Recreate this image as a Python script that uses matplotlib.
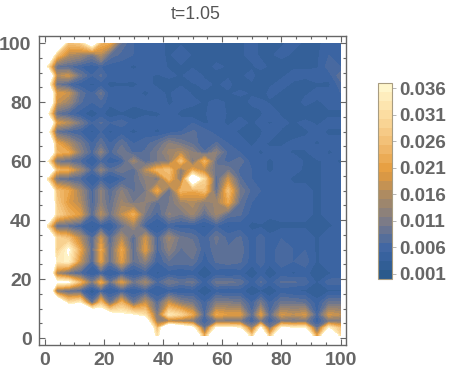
import numpy as np
import matplotlib
matplotlib.use('Agg')
import matplotlib.pyplot as plt
from matplotlib.colors import LinearSegmentedColormap, BoundaryNorm
from matplotlib.cm import ScalarMappable
from matplotlib.ticker import MultipleLocator

plt.rcParams['font.family'] = ['Liberation Sans', 'DejaVu Sans']

# sample positions, picked on the dark lines and in the cells between them
x_pos = [1, 4, 8, 12, 16, 19, 22, 26, 30, 34, 38, 42, 46, 50, 54, 58, 62, 66, 70, 73, 76, 80, 84, 88, 92, 96, 100]
y_pos = [1, 3.5, 5.8, 8, 12, 16, 19, 22, 26, 30, 34, 38, 42, 46, 50, 54, 57, 60, 63, 66, 70, 73, 76, 80, 83, 86, 89, 92, 96, 100]

# values, in thousandths, one row per y_pos
z_rows = [
    [60, 60, 60, 60, 60, 60, 60, 60, 60, 60, 30, 60, 60, 60, 20, 60, 60, 60, 26, 60, 24, 60, 60, 60, 18, 60, 30],
    [60, 60, 60, 60, 60, 60, 60, 60, 60, 60, 24, 60, 50, 40, 8, 38, 38, 36, 12, 38, 10, 38, 36, 36, 8, 36, 26],
    [60, 60, 60, 60, 60, 60, 60, 55, 50, 45, 12, 14, 12, 11, 5, 10, 10, 10, 5, 10, 5, 10, 9, 10, 4, 10, 10],
    [60, 60, 60, 60, 60, 50, 42, 38, 36, 32, 10, 34, 30, 22, 6, 22, 20, 20, 7, 20, 7, 19, 17, 19, 5, 19, 17],
    [60, 60, 32, 36, 8, 26, 9, 24, 9, 18, 7, 18, 12, 10, 5, 11, 11, 10, 5, 10, 5, 9, 9, 8, 4, 9, 9],
    [60, 10, 7, 6, 2, 5, 3, 5, 3, 5, 3, 4, 3, 4, 2, 4, 3, 4, 2, 3, 2, 4, 3, 3, 2, 3, 3],
    [60, 40, 38, 24, 10, 22, 8, 20, 9, 14, 6, 10, 8, 9, 4, 9, 9, 8, 4, 7, 4, 7, 7, 6, 3, 6, 6],
    [60, 14, 8, 6, 3, 5, 3, 5, 3, 5, 3, 4, 3, 4, 2, 4, 3, 4, 2, 4, 2, 4, 3, 4, 2, 3, 4],
    [60, 34, 36, 18, 6, 20, 8, 20, 8, 12, 5, 8, 8, 8, 4, 7, 8, 7, 4, 6, 4, 6, 5, 6, 3, 5, 5],
    [60, 28, 38, 22, 7, 22, 8, 22, 7, 20, 6, 12, 8, 10, 5, 8, 7, 8, 4, 6, 4, 6, 5, 5, 3, 5, 5],
    [60, 30, 26, 16, 6, 18, 7, 16, 7, 18, 6, 14, 9, 8, 5, 9, 6, 7, 4, 6, 4, 5, 5, 5, 3, 5, 5],
    [30, 8, 7, 5, 3, 4, 3, 8, 14, 5, 3, 5, 4, 4, 3, 5, 3, 4, 3, 3, 2, 3, 3, 3, 2, 3, 4],
    [60, 30, 24, 20, 7, 16, 9, 17, 23, 10, 6, 12, 10, 14, 8, 14, 8, 7, 4, 5, 4, 4, 4, 4, 3, 4, 4],
    [60, 28, 20, 16, 6, 12, 8, 14, 10, 12, 8, 10, 14, 16, 12, 14, 22, 8, 5, 5, 4, 4, 4, 4, 3, 4, 4],
    [60, 26, 22, 14, 6, 12, 7, 12, 8, 10, 22, 8, 24, 22, 26, 8, 26, 10, 6, 5, 4, 4, 4, 4, 3, 4, 4],
    [30, 9, 7, 6, 3, 5, 3, 5, 8, 12, 10, 24, 12, 48, 30, 7, 18, 7, 5, 4, 4, 4, 3, 3, 3, 4, 4],
    [60, 24, 22, 14, 6, 12, 7, 10, 7, 16, 24, 26, 12, 22, 16, 9, 10, 6, 5, 4, 3, 4, 4, 3, 3, 4, 4],
    [34, 9, 8, 6, 3, 6, 4, 5, 14, 7, 10, 12, 26, 10, 24, 8, 6, 8, 4, 4, 3, 4, 5, 3, 3, 4, 3],
    [60, 24, 22, 12, 6, 12, 6, 10, 6, 7, 10, 14, 16, 12, 7, 12, 6, 5, 4, 3, 4, 4, 3, 3, 5, 3, 4],
    [60, 22, 16, 10, 5, 8, 5, 8, 5, 6, 8, 12, 10, 8, 5, 7, 5, 4, 3, 4, 3, 3, 4, 4, 3, 4, 4],
    [40, 8, 6, 5, 3, 5, 3, 4, 3, 4, 3, 4, 5, 7, 6, 4, 4, 3, 3, 3, 5, 3, 2, 3, 4, 3, 3],
    [60, 20, 16, 10, 5, 7, 5, 6, 4, 5, 4, 5, 4, 5, 3, 4, 3, 4, 3, 4, 3, 4, 3, 4, 3, 4, 4],
    [36, 8, 6, 4, 2, 4, 2, 3, 2, 3, 3, 4, 3, 2, 3, 5, 3, 3, 2, 3, 5, 3, 3, 2, 3, 3, 3],
    [60, 18, 14, 7, 5, 6, 4, 5, 4, 4, 5, 3, 4, 4, 3, 4, 3, 2, 4, 4, 3, 3, 2, 4, 3, 4, 4],
    [60, 20, 18, 8, 5, 9, 4, 5, 4, 3, 4, 3, 5, 3, 3, 2, 3, 4, 3, 2, 4, 3, 3, 3, 4, 4, 5],
    [42, 9, 6, 4, 3, 4, 3, 3, 3, 4, 3, 2, 3, 3, 4, 3, 4, 2, 3, 3, 3, 4, 3, 2, 3, 3, 6],
    [60, 16, 18, 9, 5, 7, 4, 5, 4, 4, 3, 4, 3, 5, 3, 2, 3, 3, 4, 2, 3, 3, 4, 4, 5, 4, 8],
    [32, 8, 7, 5, 4, 5, 4, 4, 3, 4, 5, 3, 3, 3, 2, 4, 3, 2, 3, 4, 3, 2, 3, 3, 3, 6, 5],
    [60, 26, 16, 14, 10, 16, 8, 6, 5, 4, 4, 3, 5, 3, 3, 2, 3, 3, 4, 3, 3, 4, 3, 3, 3, 5, 5],
    [60, 60, 26, 28, 45, 24, 22, 8, 5, 4, 4, 3, 3, 3, 2, 3, 3, 3, 4, 3, 3, 3, 4, 3, 3, 4, 4],
]
bar_ticks = [0.001, 0.006, 0.011, 0.016, 0.021, 0.026, 0.031, 0.036]
bar_labels = ['0.001', '0.006', '0.011', '0.016', '0.021', '0.026', '0.031', '0.036']

z = np.array(z_rows) * 0.001
gray = '#666666'
W, H = 449, 372

cmap = LinearSegmentedColormap.from_list('sunset', [
    (0.0, '#2a5a8c'), (0.13, '#3d65a5'), (0.28, '#7b7b88'), (0.42, '#ab8a63'),
    (0.55, '#e69c3c'), (0.70, '#f2be74'), (0.85, '#fcdca0'), (1.0, '#fff6cc')])
cmap.set_over('white')
levels = np.linspace(0, 0.037, 23)

fig = plt.figure(figsize=(W / 100, H / 100), dpi=100)
ax = fig.add_axes([38.5 / W, 1 - 345 / H, (346 - 38.5) / W, (345 - 36) / H])
ax.contourf(x_pos, y_pos, z, levels=levels, cmap=cmap, extend='max')
ax.set_xlim(-2.1, 101.8)
ax.set_ylim(-2.3, 102.4)
ax.set_title('t=1.05', fontsize=12.8, color='#555555', pad=12.5, x=0.51)

ax.xaxis.set_major_locator(MultipleLocator(20))
ax.yaxis.set_major_locator(MultipleLocator(20))
ax.xaxis.set_minor_locator(MultipleLocator(5))
ax.yaxis.set_minor_locator(MultipleLocator(5))
ax.tick_params(which='major', direction='in', top=True, right=True, length=4, width=0.8,
               color=gray, labelcolor=gray, labelsize=14, pad=5)
ax.tick_params(which='minor', direction='in', top=True, right=True, length=2.2, width=0.8, color=gray)
for lab in ax.get_xticklabels() + ax.get_yticklabels():
    lab.set_fontweight('bold')
for s in ax.spines.values():
    s.set_color(gray)
    s.set_linewidth(1.0)

cax = fig.add_axes([378 / W, 1 - 279 / H, 14 / W, 196 / H])
sm = ScalarMappable(norm=BoundaryNorm(levels, cmap.N), cmap=cmap)
cb = fig.colorbar(sm, cax=cax, spacing='proportional', ticks=bar_ticks)
cb.ax.set_yticklabels(bar_labels, fontweight='bold')
cb.ax.tick_params(length=3, width=0.6, color='#aaaaaa', labelcolor=gray, labelsize=13.5, pad=2)
cb.ax.minorticks_off()
cb.outline.set_edgecolor('#a89c80')
cb.outline.set_linewidth(0.8)

fig.savefig('out.png', dpi=100)
